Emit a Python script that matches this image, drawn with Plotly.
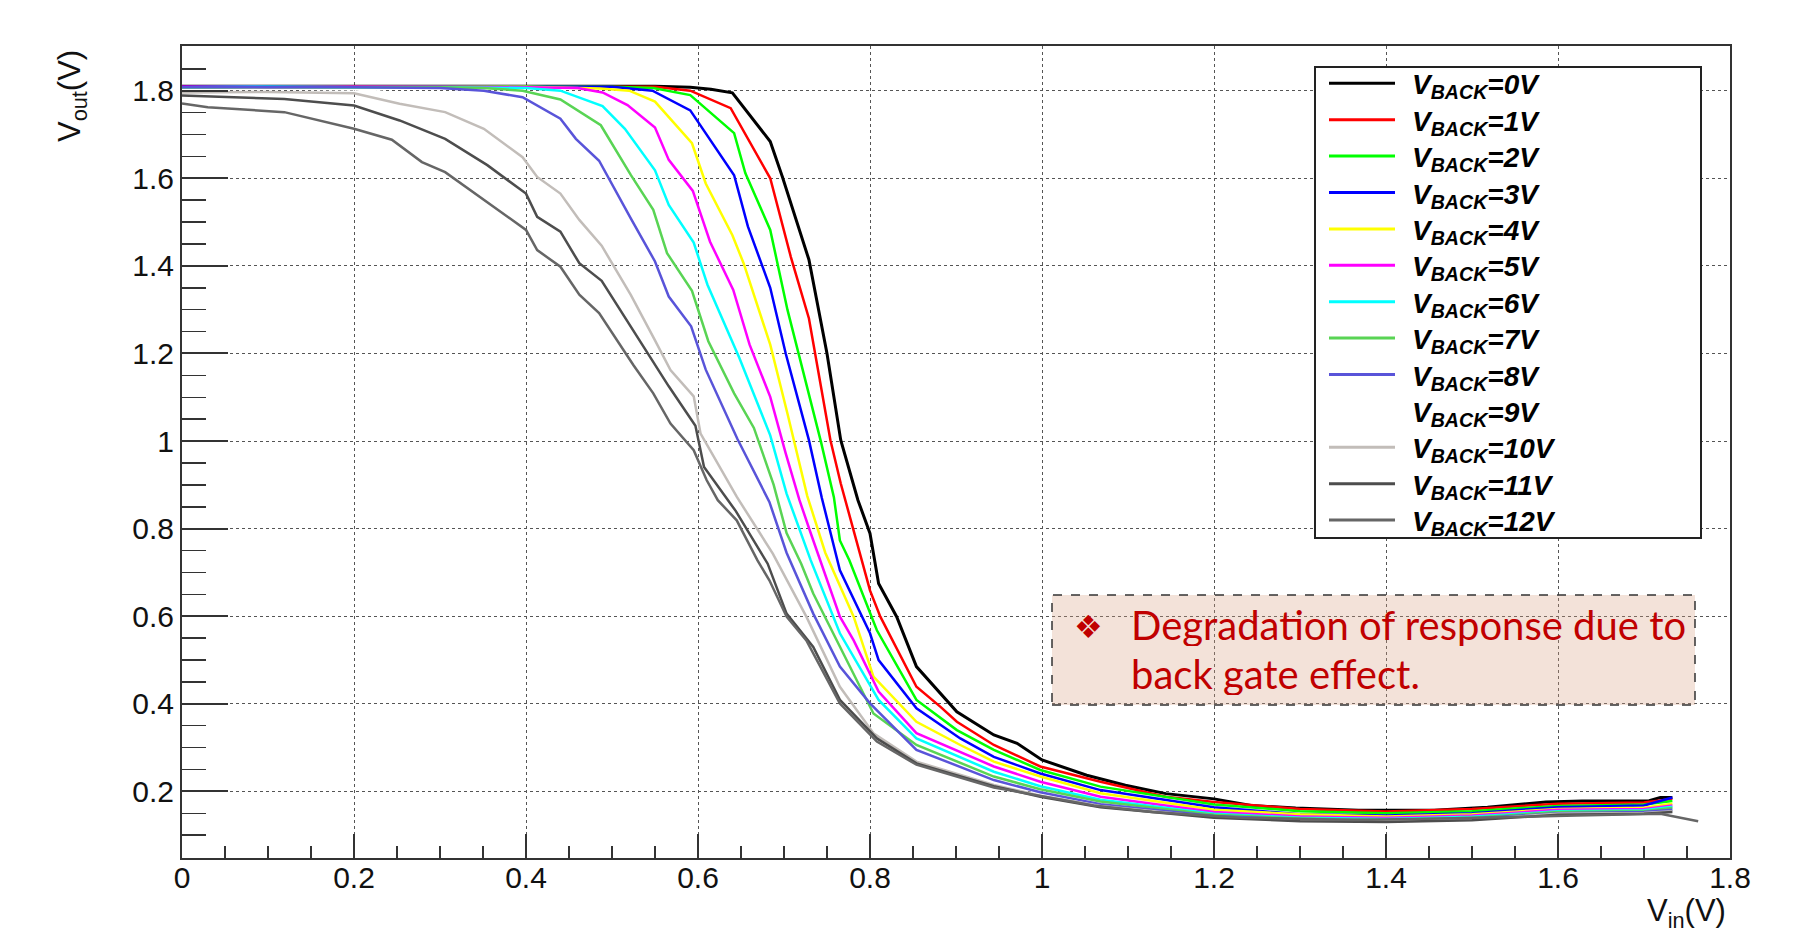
import plotly.graph_objects as go

# ---------------- data ----------------
VBACK = [0, 1, 2, 3, 4, 5, 6, 7, 8, 9, 10, 11, 12]
COLORS = ['#000000', '#ff0000', '#00ff00', '#0000ff', '#ffff00', '#ff00ff', '#00ffff',
          '#59d454', '#5954d9', '#ffffff', '#c2bdb9', '#4d4d4d', '#666666']

VIN_0 = [0, 0.1, 0.2, 0.3, 0.4, 0.5, 0.55, 0.591, 0.615, 0.640, 0.684, 0.698, 0.729, 0.750, 0.766, 0.786, 0.800, 0.810, 0.831, 0.854, 0.882, 0.901, 0.944, 0.971, 1.0, 1.052, 1.097, 1.144, 1.2, 1.243, 1.295, 1.368, 1.456, 1.518, 1.586, 1.628, 1.706, 1.719, 1.733]
VOUT_0 = [1.810, 1.810, 1.811, 1.810, 1.811, 1.810, 1.810, 1.808, 1.803, 1.795, 1.684, 1.604, 1.414, 1.200, 1.002, 0.865, 0.789, 0.675, 0.599, 0.485, 0.424, 0.382, 0.329, 0.310, 0.272, 0.237, 0.214, 0.195, 0.183, 0.168, 0.162, 0.157, 0.157, 0.164, 0.176, 0.178, 0.179, 0.186, 0.186]

VIN_1 = [0, 0.1, 0.2, 0.3, 0.4, 0.5, 0.55, 0.591, 0.638, 0.684, 0.708, 0.729, 0.754, 0.766, 0.78, 0.8, 0.812, 0.854, 0.882, 0.901, 0.944, 0.998, 1.068, 1.144, 1.2, 1.3, 1.4, 1.5, 1.6, 1.7, 1.733]
VOUT_1 = [1.809, 1.809, 1.810, 1.810, 1.810, 1.810, 1.809, 1.800, 1.760, 1.600, 1.420, 1.280, 1.002, 0.903, 0.800, 0.659, 0.599, 0.439, 0.393, 0.359, 0.306, 0.257, 0.222, 0.188, 0.176, 0.160, 0.154, 0.160, 0.172, 0.175, 0.183]

VIN_2 = [0, 0.1, 0.2, 0.3, 0.4, 0.5, 0.548, 0.591, 0.642, 0.655, 0.684, 0.704, 0.743, 0.758, 0.765, 0.776, 0.8, 0.808, 0.854, 0.901, 0.944, 0.998, 1.068, 1.2, 1.3, 1.4, 1.5, 1.6, 1.7, 1.733]
VOUT_2 = [1.808, 1.809, 1.808, 1.809, 1.810, 1.809, 1.806, 1.790, 1.703, 1.612, 1.482, 1.300, 0.998, 0.872, 0.773, 0.728, 0.606, 0.568, 0.409, 0.340, 0.295, 0.249, 0.211, 0.170, 0.155, 0.150, 0.155, 0.167, 0.170, 0.178]

VIN_3 = [0, 0.1, 0.2, 0.3, 0.4, 0.5, 0.547, 0.591, 0.642, 0.658, 0.684, 0.702, 0.729, 0.744, 0.765, 0.8, 0.810, 0.854, 0.905, 0.944, 0.998, 1.068, 1.2, 1.3, 1.4, 1.5, 1.6, 1.7, 1.733]
VOUT_3 = [1.809, 1.810, 1.809, 1.810, 1.809, 1.809, 1.800, 1.755, 1.607, 1.490, 1.350, 1.200, 1.002, 0.870, 0.705, 0.561, 0.500, 0.390, 0.321, 0.279, 0.241, 0.203, 0.164, 0.148, 0.145, 0.150, 0.164, 0.168, 0.186]

VIN_4 = [0, 0.1, 0.2, 0.3, 0.4, 0.486, 0.52, 0.55, 0.593, 0.609, 0.640, 0.653, 0.684, 0.704, 0.727, 0.748, 0.781, 0.804, 0.854, 0.905, 0.944, 0.998, 1.068, 1.2, 1.3, 1.4, 1.5, 1.6, 1.7, 1.733]
VOUT_4 = [1.808, 1.808, 1.809, 1.808, 1.809, 1.805, 1.800, 1.775, 1.680, 1.588, 1.470, 1.406, 1.220, 1.063, 0.875, 0.745, 0.599, 0.462, 0.359, 0.306, 0.268, 0.234, 0.196, 0.158, 0.148, 0.143, 0.148, 0.160, 0.163, 0.172]

VIN_5 = [0, 0.1, 0.2, 0.3, 0.4, 0.46, 0.489, 0.518, 0.55, 0.566, 0.594, 0.614, 0.641, 0.66, 0.684, 0.702, 0.718, 0.731, 0.765, 0.781, 0.810, 0.854, 0.944, 0.998, 1.068, 1.2, 1.3, 1.4, 1.5, 1.6, 1.7, 1.733]
VOUT_5 = [1.809, 1.808, 1.809, 1.809, 1.808, 1.806, 1.796, 1.767, 1.716, 1.642, 1.571, 1.455, 1.345, 1.220, 1.101, 0.972, 0.865, 0.790, 0.599, 0.545, 0.428, 0.333, 0.257, 0.222, 0.188, 0.153, 0.143, 0.140, 0.145, 0.158, 0.160, 0.168]

VIN_6 = [0, 0.1, 0.2, 0.3, 0.4, 0.44, 0.489, 0.515, 0.55, 0.566, 0.595, 0.611, 0.648, 0.684, 0.703, 0.731, 0.765, 0.810, 0.854, 0.944, 0.998, 1.068, 1.2, 1.3, 1.4, 1.5, 1.6, 1.7, 1.733]
VOUT_6 = [1.808, 1.809, 1.808, 1.808, 1.806, 1.800, 1.765, 1.713, 1.618, 1.539, 1.453, 1.357, 1.190, 1.013, 0.880, 0.728, 0.561, 0.409, 0.321, 0.245, 0.212, 0.181, 0.149, 0.140, 0.137, 0.142, 0.155, 0.157, 0.165]

VIN_7 = [0, 0.1, 0.2, 0.3, 0.35, 0.396, 0.44, 0.487, 0.522, 0.548, 0.564, 0.593, 0.612, 0.642, 0.665, 0.688, 0.703, 0.72, 0.734, 0.765, 0.804, 0.854, 0.944, 0.998, 1.068, 1.2, 1.3, 1.4, 1.5, 1.6, 1.7, 1.733]
VOUT_7 = [1.808, 1.808, 1.808, 1.808, 1.806, 1.800, 1.780, 1.721, 1.607, 1.528, 1.429, 1.343, 1.228, 1.109, 1.030, 0.900, 0.790, 0.720, 0.652, 0.530, 0.378, 0.306, 0.234, 0.205, 0.177, 0.147, 0.138, 0.135, 0.140, 0.153, 0.155, 0.162]

VIN_8 = [0, 0.1, 0.2, 0.3, 0.351, 0.396, 0.44, 0.458, 0.485, 0.522, 0.55, 0.566, 0.592, 0.609, 0.646, 0.683, 0.703, 0.734, 0.765, 0.8, 0.854, 0.944, 0.998, 1.068, 1.2, 1.3, 1.4, 1.5, 1.6, 1.7, 1.733]
VOUT_8 = [1.808, 1.808, 1.808, 1.806, 1.800, 1.785, 1.736, 1.690, 1.640, 1.508, 1.410, 1.330, 1.262, 1.163, 1.004, 0.861, 0.745, 0.606, 0.485, 0.401, 0.295, 0.226, 0.198, 0.171, 0.144, 0.136, 0.134, 0.138, 0.150, 0.153, 0.158]

VIN_9 = [0, 0.1, 0.2, 0.3, 0.35, 0.4, 0.45, 0.5, 0.55, 0.6, 0.65, 0.7, 0.75, 0.8, 0.854, 0.944, 1.068, 1.2, 1.3, 1.4, 1.5, 1.6, 1.7, 1.733]
VOUT_9 = [1.805, 1.805, 1.803, 1.785, 1.760, 1.720, 1.630, 1.490, 1.320, 1.140, 0.920, 0.730, 0.520, 0.370, 0.280, 0.220, 0.169, 0.143, 0.135, 0.133, 0.137, 0.150, 0.152, 0.156]

VIN_10 = [0, 0.1, 0.2, 0.253, 0.306, 0.351, 0.396, 0.413, 0.44, 0.462, 0.488, 0.522, 0.55, 0.568, 0.595, 0.603, 0.645, 0.687, 0.726, 0.765, 0.804, 0.854, 0.944, 0.998, 1.068, 1.2, 1.3, 1.4, 1.5, 1.6, 1.7, 1.733]
VOUT_10 = [1.796, 1.797, 1.794, 1.770, 1.751, 1.713, 1.648, 1.603, 1.565, 1.505, 1.446, 1.333, 1.230, 1.162, 1.102, 1.017, 0.873, 0.743, 0.599, 0.439, 0.333, 0.268, 0.215, 0.190, 0.167, 0.141, 0.134, 0.132, 0.136, 0.149, 0.151, 0.155]

VIN_11 = [0, 0.119, 0.2, 0.253, 0.306, 0.355, 0.4, 0.413, 0.44, 0.462, 0.488, 0.522, 0.548, 0.566, 0.597, 0.607, 0.644, 0.681, 0.703, 0.734, 0.765, 0.808, 0.854, 0.944, 0.998, 1.068, 1.2, 1.3, 1.4, 1.5, 1.6, 1.7, 1.733]
VOUT_11 = [1.789, 1.781, 1.766, 1.732, 1.690, 1.630, 1.565, 1.512, 1.478, 1.406, 1.366, 1.260, 1.180, 1.125, 1.035, 0.941, 0.840, 0.720, 0.606, 0.530, 0.409, 0.321, 0.264, 0.212, 0.188, 0.164, 0.140, 0.132, 0.130, 0.134, 0.147, 0.149, 0.153]

VIN_12 = [0, 0.03, 0.119, 0.2, 0.244, 0.279, 0.306, 0.355, 0.4, 0.413, 0.44, 0.462, 0.485, 0.525, 0.548, 0.568, 0.595, 0.610, 0.623, 0.645, 0.669, 0.683, 0.703, 0.726, 0.765, 0.808, 0.854, 0.944, 1.0, 1.06, 1.128, 1.232, 1.362, 1.466, 1.622, 1.719, 1.763]
VOUT_12 = [1.771, 1.762, 1.751, 1.713, 1.688, 1.637, 1.614, 1.546, 1.482, 1.436, 1.398, 1.334, 1.292, 1.173, 1.109, 1.040, 0.979, 0.911, 0.865, 0.819, 0.728, 0.682, 0.599, 0.545, 0.401, 0.314, 0.261, 0.209, 0.190, 0.168, 0.153, 0.140, 0.135, 0.138, 0.145, 0.149, 0.132]

X_TICKS = [0, 0.2, 0.4, 0.6, 0.8, 1.0, 1.2, 1.4, 1.6, 1.8]
X_TICK_LABELS = ['0', '0.2', '0.4', '0.6', '0.8', '1', '1.2', '1.4', '1.6', '1.8']
Y_TICKS = [0.2, 0.4, 0.6, 0.8, 1.0, 1.2, 1.4, 1.6, 1.8]
Y_TICK_LABELS = ['0.2', '0.4', '0.6', '0.8', '1', '1.2', '1.4', '1.6', '1.8']

NOTE_LINE1 = 'Degradation of response due to'
NOTE_LINE2 = 'back gate effect.'

VIN = [VIN_0, VIN_1, VIN_2, VIN_3, VIN_4, VIN_5, VIN_6, VIN_7, VIN_8, VIN_9, VIN_10, VIN_11, VIN_12]
VOUT = [VOUT_0, VOUT_1, VOUT_2, VOUT_3, VOUT_4, VOUT_5, VOUT_6, VOUT_7, VOUT_8, VOUT_9, VOUT_10, VOUT_11, VOUT_12]

# ---------------- layout geometry ----------------
# page body margin is removed (post_script below), so figure pixels == page pixels
W, H = 1815, 936
L, R, T, B = 182, 1730, 46, 858


def px(X):
    """page x pixel -> paper coordinate"""
    return (X - L) / (R - L)


def py(Y):
    """page y pixel -> paper coordinate"""
    return (B - Y) / (B - T)


fig = go.Figure()
# the white (VBACK=9) curve is drawn first so it does not hide the others
order = [9] + [i for i in range(len(VBACK)) if i != 9]
for i in order:
    fig.add_trace(go.Scatter(
        x=VIN[i], y=VOUT[i], mode='lines', name=f'VBACK={VBACK[i]}V',
        line=dict(color=COLORS[i], width=3 if i == 0 else 2.5),
        showlegend=False, hoverinfo='skip'))

AX_FONT = dict(family='Liberation Sans, Arial, sans-serif', size=30, color='#111111')
TITLE_FONT = dict(family='Liberation Sans, Arial, sans-serif', size=31, color='#111111')

fig.update_xaxes(
    range=[0, 1.8], tickmode='array', tickvals=X_TICKS, ticktext=X_TICK_LABELS,
    ticks='inside', ticklen=24, tickwidth=2, tickcolor='#333333',
    minor=dict(dtick=0.05, tick0=0, ticks='inside', ticklen=12, tickwidth=1.5,
               tickcolor='#333333', showgrid=False),
    showgrid=True, gridcolor='#555555', griddash='dot', gridwidth=1,
    showline=True, linecolor='#333333', linewidth=2, mirror=True,
    zeroline=False, tickfont=AX_FONT, ticklabelstandoff=-8)
fig.update_yaxes(
    range=[0.048, 1.902], tickmode='array', tickvals=Y_TICKS, ticktext=Y_TICK_LABELS,
    ticks='inside', ticklen=46, tickwidth=2, tickcolor='#333333',
    minor=dict(dtick=0.05, tick0=0, ticks='inside', ticklen=24, tickwidth=1.5,
               tickcolor='#333333', showgrid=False),
    showgrid=True, gridcolor='#555555', griddash='dot', gridwidth=1,
    showline=True, linecolor='#333333', linewidth=2, mirror=True,
    zeroline=False, tickfont=AX_FONT)

shapes = []
annotations = []

# legend box (drawn by hand to match the ROOT layout)
shapes.append(dict(type='rect', xref='paper', yref='paper',
                   x0=px(1315), x1=px(1701), y0=py(538), y1=py(67),
                   line=dict(color='#222222', width=2), fillcolor='white', layer='above'))
ROW0, ROWSTEP = 83.3, 36.4
for i, vb in enumerate(VBACK):
    yy = ROW0 + ROWSTEP * i
    shapes.append(dict(type='line', xref='paper', yref='paper',
                       x0=px(1329), x1=px(1395), y0=py(yy), y1=py(yy),
                       line=dict(color=COLORS[i], width=3), layer='above'))
    annotations.append(dict(
        xref='paper', yref='paper', x=px(1410), y=py(yy + 3),
        xanchor='left', yanchor='middle', showarrow=False, height=34, valign='middle',
        text=f'<b><i>V<sub>BACK</sub>=' + f'{vb}V</i></b>',
        font=dict(family='Liberation Sans, Arial, sans-serif', size=28, color='#000000')))

# note box
shapes.append(dict(type='rect', xref='paper', yref='paper',
                   x0=px(1052), x1=px(1695), y0=py(705), y1=py(595),
                   line=dict(color='#333333', width=1.5, dash='dash'),
                   fillcolor='rgba(215,160,130,0.30)', layer='above'))
NOTE_FONT = dict(family='Lato, sans-serif', size=40, color='#c00000')
annotations.append(dict(xref='paper', yref='paper', x=px(1088), y=py(627),
                        xanchor='center', yanchor='middle', showarrow=False, text='❖',
                        font=dict(family='DejaVu Sans', size=32, color='#c00000')))
annotations.append(dict(xref='paper', yref='paper', x=px(1129), y=py(624.5),
                        xanchor='left', yanchor='middle', showarrow=False,
                        height=42, valign='middle',
                        text=NOTE_LINE1, font=NOTE_FONT))
annotations.append(dict(xref='paper', yref='paper', x=px(1129), y=py(673.5),
                        xanchor='left', yanchor='middle', showarrow=False,
                        height=42, valign='middle',
                        text=NOTE_LINE2, font=NOTE_FONT))

# axis titles
annotations.append(dict(xref='paper', yref='paper', x=px(72), y=py(96),
                        xanchor='center', yanchor='middle', showarrow=False, textangle=-90,
                        text='V<sub>out</sub>(V)', font=TITLE_FONT))
annotations.append(dict(xref='paper', yref='paper', x=px(1728), y=py(913),
                        xanchor='right', yanchor='middle', showarrow=False,
                        text='V<sub>in</sub>(V)', font=TITLE_FONT))

fig.update_layout(
    width=W, height=H, autosize=False,
    margin=dict(l=L, r=W - R, t=T, b=H - B, pad=0),
    paper_bgcolor='white', plot_bgcolor='white',
    shapes=shapes, annotations=annotations, showlegend=False)

fig.write_html('out.html',
               config={'displayModeBar': False, 'staticPlot': True},
               post_script="document.body.style.margin='0px';"
                           "document.body.style.overflow='hidden';")
